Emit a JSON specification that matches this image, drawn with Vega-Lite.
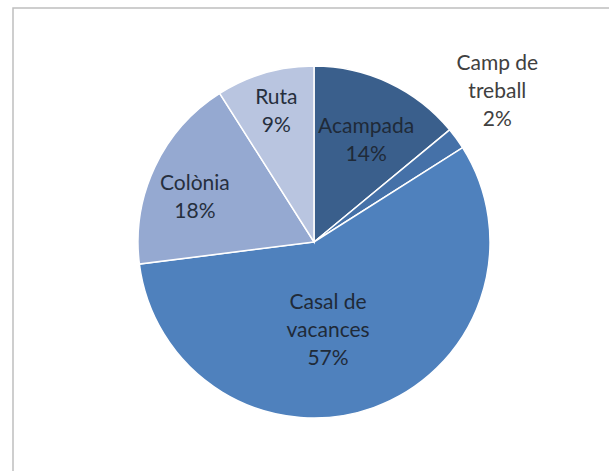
{
  "$schema": "https://vega.github.io/schema/vega-lite/v6.json",
  "width": 602,
  "height": 468,
  "autosize": "none",
  "padding": {"left": 13, "top": 8, "right": -6, "bottom": -5},
  "background": "white",
  "view": {"stroke": "#bfbfbf", "strokeWidth": 1.5},
  "data": {
    "values": [
      {"cat": "Acampada", "value": 14, "order": 1, "label": ["Acampada", "14%"]},
      {"cat": "Camp de treball", "value": 2, "order": 2, "label": ["Camp de", "treball", "2%"]},
      {"cat": "Casal de vacances", "value": 57, "order": 3, "label": ["Casal de", "vacances", "57%"]},
      {"cat": "Colònia", "value": 18, "order": 4, "label": ["Colònia", "18%"]},
      {"cat": "Ruta", "value": 9, "order": 5, "label": ["Ruta", "9%"]}
    ]
  },
  "encoding": {
    "theta": {"field": "value", "type": "quantitative", "stack": true},
    "order": {"field": "order", "type": "quantitative"}
  },
  "layer": [
    {
      "mark": {"type": "arc", "radius": 176, "stroke": "white", "strokeWidth": 1.5},
      "encoding": {
        "color": {
          "field": "cat",
          "type": "nominal",
          "scale": {
            "domain": ["Acampada", "Camp de treball", "Casal de vacances", "Colònia", "Ruta"],
            "range": ["#3A5F8C", "#4571A8", "#4F81BD", "#95A9D1", "#B9C5E0"]
          },
          "legend": null
        }
      }
    },
    {
      "mark": {"type": "text", "radius": 114, "thetaOffset": 0.035, "dy": -14, "font": "Lato", "fontSize": 21, "lineHeight": 28, "color": "#1f2a38", "align": "center", "baseline": "middle"},
      "encoding": {"text": {"condition": {"test": "datum.cat === 'Acampada'", "field": "label"}, "value": ""}}
    },
    {
      "mark": {"type": "text", "radius": 135, "thetaOffset": 0, "dy": -14, "font": "Lato", "fontSize": 21, "lineHeight": 28, "color": "#262f3d", "align": "center", "baseline": "middle"},
      "encoding": {"text": {"condition": {"test": "datum.cat === 'Ruta'", "field": "label"}, "value": ""}}
    },
    {
      "mark": {"type": "text", "radius": 127, "thetaOffset": -0.085, "dy": -14, "font": "Lato", "fontSize": 21, "lineHeight": 28, "color": "#262f3d", "align": "center", "baseline": "middle"},
      "encoding": {"text": {"condition": {"test": "datum.cat === 'Colònia'", "field": "label"}, "value": ""}}
    },
    {
      "mark": {"type": "text", "radius": 90, "thetaOffset": 0.189, "dy": -28, "font": "Lato", "fontSize": 21, "lineHeight": 28, "color": "#1f2a38", "align": "center", "baseline": "middle"},
      "encoding": {"text": {"condition": {"test": "datum.cat === 'Casal de vacances'", "field": "label"}, "value": ""}}
    },
    {
      "mark": {"type": "text", "radius": 237, "thetaOffset": -0.058, "dy": -28, "font": "Lato", "fontSize": 21, "lineHeight": 28, "color": "#404040", "align": "center", "baseline": "middle"},
      "encoding": {"text": {"condition": {"test": "datum.cat === 'Camp de treball'", "field": "label"}, "value": ""}}
    }
  ]
}
